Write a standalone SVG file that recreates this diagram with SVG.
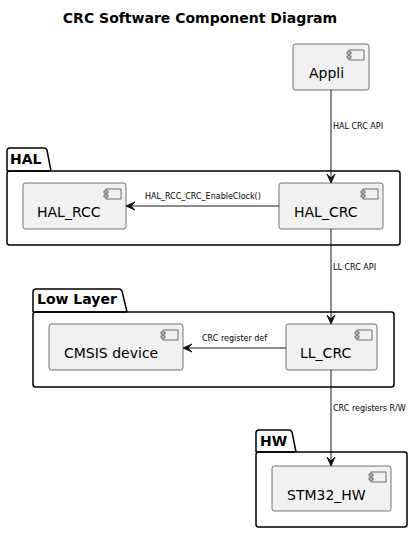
<svg xmlns="http://www.w3.org/2000/svg" width="413" height="533" viewBox="0 0 413 533">
<defs>
<style>
.pkg{fill:none;stroke:#000;stroke-width:1.5}
.comp{fill:#F1F1F1;stroke:#181818;stroke-width:0.6}
.ic{fill:#F1F1F1;stroke:#181818;stroke-width:0.6}
.ct{font-family:"DejaVu Sans",sans-serif;font-size:14px;fill:#000}
.pt{font-family:"DejaVu Sans",sans-serif;font-size:14px;font-weight:bold;fill:#000}
.lt{font-family:"DejaVu Sans",sans-serif;font-size:8px;fill:#000}
.ln{stroke:#181818;stroke-width:1;fill:none}
.ah{fill:#181818;stroke:#181818;stroke-width:1}
</style>
<g id="icon"><rect class="ic" x="4" y="0" width="15" height="10"/><rect class="ic" x="2" y="2" width="4" height="2"/><rect class="ic" x="2" y="6" width="4" height="2"/></g>
</defs>
<rect width="413" height="533" fill="#fff"/>
<text x="200" y="23" text-anchor="middle" font-family="DejaVu Sans, sans-serif" font-size="14" font-weight="bold">CRC Software Component Diagram</text>

<g id="pkg-HAL">
<path class="pkg" d="M7,171 L7,151 Q7,148 10,148 L44,148 Q46,148 47,150 L51,171"/>
<rect class="pkg" x="7" y="171" width="393" height="74" rx="2.5"/>
<line class="pkg" x1="7" y1="171" x2="51" y2="171"/>
<text class="pt" x="10" y="164">HAL</text>
</g>
<g id="pkg-LowLayer">
<path class="pkg" d="M33,312 L33,292 Q33,289 36,289 L119,289 Q121,289 122,291 L127,312"/>
<rect class="pkg" x="33" y="312" width="361" height="75" rx="2.5"/>
<line class="pkg" x1="33" y1="312" x2="127" y2="312"/>
<text class="pt" x="37" y="304">Low Layer</text>
</g>
<g id="pkg-HW">
<path class="pkg" d="M256,452 L256,433 Q256,430 259,430 L289,430 Q291,430 292,432 L296,452"/>
<rect class="pkg" x="256" y="452" width="151" height="75" rx="2.5"/>
<line class="pkg" x1="256" y1="452" x2="296" y2="452"/>
<text class="pt" x="260" y="446">HW</text>
</g>

<g id="Appli">
<rect class="comp" x="293" y="44" width="76" height="46" rx="2.5"/>
<use href="#icon" x="345" y="50"/>
<text class="ct" x="309" y="78">Appli</text>
</g>
<g id="HAL_RCC">
<rect class="comp" x="23" y="183" width="103" height="46" rx="2.5"/>
<use href="#icon" x="102" y="189"/>
<text class="ct" x="37" y="217">HAL_RCC</text>
</g>
<g id="HAL_CRC">
<rect class="comp" x="279" y="183" width="104" height="46" rx="2.5"/>
<use href="#icon" x="359" y="189"/>
<text class="ct" x="294" y="217">HAL_CRC</text>
</g>
<g id="CMSIS_device">
<rect class="comp" x="49" y="324" width="134" height="46" rx="2.5"/>
<use href="#icon" x="159" y="330"/>
<text class="ct" x="64" y="358">CMSIS device</text>
</g>
<g id="LL_CRC">
<rect class="comp" x="286" y="324" width="91" height="46" rx="2.5"/>
<use href="#icon" x="353" y="330"/>
<text class="ct" x="300" y="358">LL_CRC</text>
</g>
<g id="STM32_HW">
<rect class="comp" x="272" y="466" width="119" height="45" rx="2.5"/>
<use href="#icon" x="367" y="472"/>
<text class="ct" x="287" y="500">STM32_HW</text>
</g>

<g id="connectors">
<line class="ln" x1="331" y1="90" x2="331" y2="181"/>
<polygon class="ah" points="331,183 327,174 331,178 335,174"/>
<text class="lt" x="333" y="129">HAL CRC API</text>

<line class="ln" x1="279" y1="206" x2="128" y2="206"/>
<polygon class="ah" points="126,206 135,202 131,206 135,210"/>
<text class="lt" x="145" y="199">HAL_RCC_CRC_EnableClock()</text>

<line class="ln" x1="331" y1="229" x2="331" y2="322"/>
<polygon class="ah" points="331,324 327,315 331,319 335,315"/>
<text class="lt" x="333" y="270">LL CRC API</text>

<line class="ln" x1="286" y1="348" x2="185" y2="348"/>
<polygon class="ah" points="183,348 192,344 188,348 192,352"/>
<text class="lt" x="202" y="341">CRC register def</text>

<line class="ln" x1="331" y1="370" x2="331" y2="464"/>
<polygon class="ah" points="331,466 327,457 331,461 335,457"/>
<text class="lt" x="333" y="411">CRC registers R/W</text>
</g>
</svg>
